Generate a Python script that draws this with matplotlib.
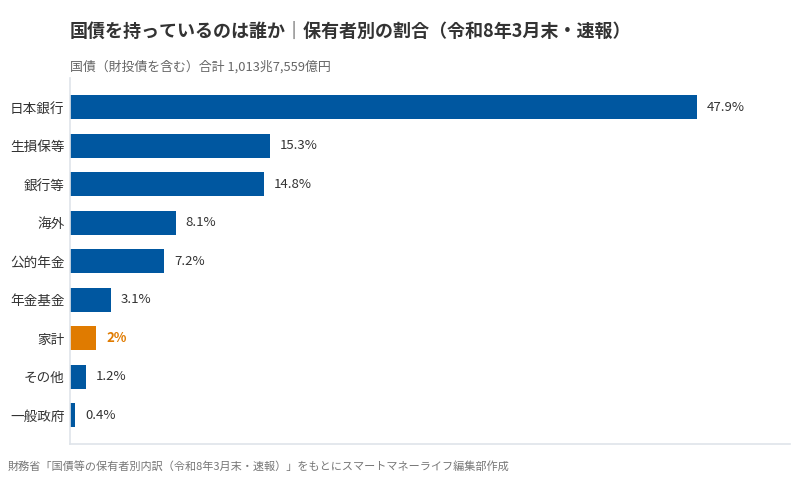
import matplotlib
matplotlib.use("Agg")
import matplotlib.pyplot as plt

plt.rcParams["font.family"] = ["Noto Sans CJK JP", "DejaVu Sans"]

# ---- data ----
holders = ["日本銀行", "生損保等", "銀行等", "海外", "公的年金", "年金基金", "家計", "その他", "一般政府"]
shares = [47.9, 15.3, 14.8, 8.1, 7.2, 3.1, 2.0, 1.2, 0.4]
share_labels = ["47.9%", "15.3%", "14.8%", "8.1%", "7.2%", "3.1%", "2%", "1.2%", "0.4%"]
highlight = "家計"

BLUE = "#0057A0"
ORANGE = "#E07B00"
INK = "#333333"
GREY = "#666666"

fig = plt.figure(figsize=(7.92, 4.82), dpi=100)
ax = fig.add_axes([0.0884, 0.0788, 0.909, 0.759])

colors = [ORANGE if h == highlight else BLUE for h in holders]
ypos = list(range(len(holders)))
ax.barh(ypos, shares, height=0.62, color=colors)

for y, v, lab, h in zip(ypos, shares, share_labels, holders):
    hl = h == highlight
    ax.text(v + 0.75, y, lab, va="center", ha="left", fontsize=9.5,
            color=ORANGE if hl else INK, fontweight="bold" if hl else "normal")

ax.set_yticks(ypos)
ax.set_yticklabels(holders, fontsize=9.8, color=INK)
ax.set_ylim(8.75, -0.75)
ax.set_xlim(0, 55)
ax.set_xticks([])
ax.tick_params(axis="y", length=0, pad=4)
for s in ("top", "right"):
    ax.spines[s].set_visible(False)
for s in ("left", "bottom"):
    ax.spines[s].set_color("#dfe4ea")
    ax.spines[s].set_linewidth(1.2)

fig.text(0.0884, 0.935, "国債を持っているのは誰か｜保有者別の割合（令和8年3月末・速報）",
         fontsize=13, fontweight="bold", color=INK, ha="left", va="center")
fig.text(0.0884, 0.862, "国債（財投債を含む）合計 1,013兆7,559億円",
         fontsize=9.3, color=GREY, ha="left", va="center")
fig.text(0.010, 0.033, "財務省「国債等の保有者別内訳（令和8年3月末・速報）」をもとにスマートマネーライフ編集部作成",
         fontsize=8, color="#777777", ha="left", va="center")

fig.savefig("out.png", dpi=100, facecolor="white")
